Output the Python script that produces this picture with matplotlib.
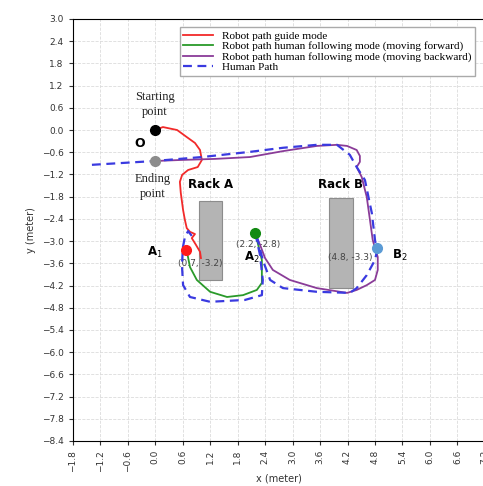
import numpy as np
import matplotlib.pyplot as plt
from matplotlib.patches import Rectangle

# paths (metres)
guide_x = [0.0, 0.17, 0.48, 0.69, 0.87, 0.98, 1.02, 0.93, 0.72, 0.59, 0.54, 0.56, 0.61,
           0.65, 0.69, 0.76, 0.87, 0.80, 0.89, 0.98, 1.0]
guide_y = [0.0, 0.08, 0.0, -0.19, -0.35, -0.54, -0.81, -1.0, -1.08, -1.21, -1.40, -1.70,
           -2.16, -2.43, -2.65, -2.75, -2.81, -2.92, -3.10, -3.29, -3.46]

fwd_x = [0.67, 0.70, 0.76, 0.91, 1.20, 1.57, 1.92, 2.22, 2.33, 2.33, 2.24, 2.18]
fwd_y = [-3.24, -3.32, -3.70, -4.05, -4.37, -4.51, -4.46, -4.32, -4.13, -3.51, -3.05, -2.78]

back_x = [2.18, 2.29, 2.40, 2.57, 2.94, 3.53, 4.19, 4.40, 4.62, 4.80, 4.86, 4.86, 4.80,
          4.75, 4.69, 4.62, 4.51, 4.40, 4.47, 4.47, 4.40, 4.19, 3.97, 3.53, 2.79, 2.07,
          1.31, 0.54, -0.05]
back_y = [-2.78, -3.10, -3.46, -3.78, -4.05, -4.27, -4.40, -4.32, -4.19, -4.05, -3.78,
          -3.43, -3.19, -2.97, -2.43, -1.81, -1.27, -1.0, -0.86, -0.70, -0.54, -0.43,
          -0.40, -0.43, -0.57, -0.73, -0.78, -0.81, -0.84]

human_x = [-1.38, -0.05, 1.02, 2.07, 2.79, 3.53, 3.97, 4.25, 4.40, 4.58, 4.73, 4.80, 4.84,
           4.80, 4.62, 4.40, 4.25, 3.53, 2.79, 2.51, 2.35, 2.24, 2.18, 2.29, 2.35, 2.33,
           1.96, 1.20, 0.76, 0.61, 0.585, 0.607, 0.65, 0.72, 0.80]
human_y = [-0.94, -0.84, -0.73, -0.59, -0.48, -0.40, -0.40, -0.67, -1.0, -1.35, -2.24,
           -2.97, -3.29, -3.51, -3.92, -4.27, -4.40, -4.37, -4.27, -4.05, -3.51, -2.97,
           -2.75, -3.38, -4.05, -4.46, -4.59, -4.64, -4.51, -4.19, -3.65, -3.16, -2.89,
           -2.73, -2.86]

# racks: x, y, width, height
rack_a = (0.96, -4.05, 0.49, 2.12)
rack_b = (3.79, -4.28, 0.52, 2.44)

start_pt = (0.0, 0.0)
end_pt = (0.0, -0.85)
a1 = (0.67, -3.24)
a2 = (2.18, -2.78)
b2 = (4.84, -3.19)

xticks = np.round(np.arange(-1.8, 7.21, 0.6), 1) + 0.0
yticks = np.round(np.arange(-8.4, 3.01, 0.6), 1) + 0.0


def fmt(v):
    if abs(v) < 1e-9:
        v = 0.0
    return f'{v:.1f}'.replace('-', '\u2212')


fig = plt.figure(figsize=(4.83, 4.86), dpi=100)
ax = fig.add_axes([0.1505, 0.0926, 0.8535, 0.8684])

ax.grid(True, color='#dcdcdc', linestyle='--', linewidth=0.6)
ax.set_axisbelow(True)

ax.add_patch(Rectangle(rack_a[:2], rack_a[2], rack_a[3], facecolor='#b4b4b4',
                       edgecolor='#8c8c8c', linewidth=0.8, zorder=2))
ax.add_patch(Rectangle(rack_b[:2], rack_b[2], rack_b[3], facecolor='#b4b4b4',
                       edgecolor='#8c8c8c', linewidth=0.8, zorder=2))

ax.plot(guide_x, guide_y, color='#f22a2a', lw=1.3, label='Robot path guide mode', zorder=4)
ax.plot(fwd_x, fwd_y, color='#2a9a2a', lw=1.3,
        label='Robot path human following mode (moving forward)', zorder=4)
ax.plot(back_x, back_y, color='#8a3c98', lw=1.3,
        label='Robot path human following mode (moving backward)', zorder=4)
ax.plot(human_x, human_y, color='#3a3ae0', lw=1.6, ls=(0, (4, 2.5)),
        label='Human Path', zorder=5)

ax.plot(*start_pt, 'o', color='black', ms=7, zorder=6)
ax.plot(*end_pt, 'o', color='#8c8c8c', ms=7, zorder=6)
ax.plot(*a1, 'o', color='#ff1a1a', ms=7, zorder=6)
ax.plot(*a2, 'o', color='#128a12', ms=7, zorder=6)
ax.plot(*b2, 'o', color='#5b9bd5', ms=7, zorder=6)

serif = ['Liberation Serif', 'DejaVu Serif']
ax.text(0.0, 0.68, 'Starting\npoint', ha='center', va='center', fontsize=9,
        family=serif, linespacing=1.3, color='#222222')
ax.text(-0.05, -1.52, 'Ending\npoint', ha='center', va='center', fontsize=9,
        family=serif, linespacing=1.3, color='#222222')
ax.text(-0.33, -0.36, 'O', ha='center', va='center', fontsize=9, fontweight='bold')
ax.text(1.2, -1.48, 'Rack A', ha='center', va='center', fontsize=8.5, fontweight='bold')
ax.text(4.05, -1.48, 'Rack B', ha='center', va='center', fontsize=8.5, fontweight='bold')
ax.text(0.0, -3.3, 'A$_1$', ha='center', va='center', fontsize=8.5, fontweight='bold')
ax.text(2.1, -3.45, 'A$_2$', ha='center', va='center', fontsize=8.5, fontweight='bold')
ax.text(5.35, -3.4, 'B$_2$', ha='center', va='center', fontsize=8.5, fontweight='bold')
ax.text(0.98, -3.6, '(0.7, -3.2)', ha='center', va='center', fontsize=6.5, color='#444444')
ax.text(2.25, -3.1, '(2.2, -2.8)', ha='center', va='center', fontsize=6.5, color='#444444')
ax.text(4.25, -3.45, '(4.8, -3.3)', ha='center', va='center', fontsize=6.5, color='#444444')

ax.set_xlim(-1.8, 7.2)
ax.set_ylim(-8.4, 3.0)
ax.set_xticks(xticks)
ax.set_yticks(yticks)
ax.set_xticklabels([fmt(v) for v in xticks], rotation=90)
ax.set_yticklabels([fmt(v) for v in yticks])
ax.tick_params(labelsize=6.5, length=3, colors='#333333')
ax.set_xlabel('x (meter)', fontsize=7, color='#333333', labelpad=1)
ax.set_ylabel('y (meter)', fontsize=7, color='#333333')

leg = ax.legend(loc='upper right', bbox_to_anchor=(0.99, 0.995), prop={'family': serif, 'size': 8.1},
                frameon=True, fancybox=False, edgecolor='#aaaaaa', handlelength=2.6,
                borderpad=0.35, labelspacing=0.05, framealpha=1)

fig.savefig('out.png', dpi=100)
